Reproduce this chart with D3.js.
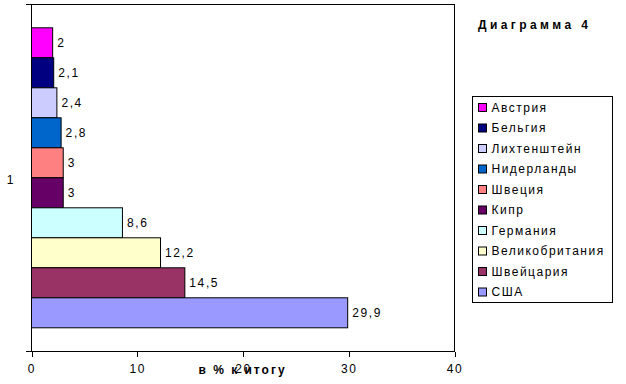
<!DOCTYPE html>
<html>
<head>
  <meta charset="utf-8">
  <title>Диаграмма 4</title>
  <style>
    body { margin: 0; background: #fff; }
    text { font-family: "Liberation Sans", Arial, sans-serif; font-size: 12px; fill: #000; }
    .sp { letter-spacing: 1.6px; }
    .leg { letter-spacing: 1.5px; }
    .axis path, .axis line { stroke: #000; shape-rendering: crispEdges; }
  </style>
</head>
<body>
  <svg id="chart"></svg>
  <script src="https://d3js.org/d3.v7.min.js"></script>
  <script>
    // данные
    const countries = ["Австрия", "Бельгия", "Лихтенштейн", "Нидерланды", "Швеция",
                       "Кипр", "Германия", "Великобритания", "Швейцария", "США"];
    const shares = [2, 2.1, 2.4, 2.8, 3, 3, 8.6, 12.2, 14.5, 29.9];
    const colors = ["#FF00FF", "#000080", "#CCCCFF", "#0066CC", "#FF8080",
                    "#660066", "#CCFFFF", "#FFFFCC", "#993366", "#9999FF"];
    const xTicks = [0, 10, 20, 30, 40];
    const category = "1";

    const W = 626, H = 384;
    const plot = { left: 31, right: 454, top: 4, bottom: 351 };

    const svg = d3.select("#chart").attr("width", W).attr("height", H);

    const x = d3.scaleLinear().domain([0, 40]).range([plot.left, plot.right]);
    const y = d3.scaleBand().domain(countries).range([27.3, 327.3]);

    const fmt = v => String(v).replace(".", ",");

    // рамка области построения
    svg.append("rect")
      .attr("x", plot.left + 0.5).attr("y", plot.top + 0.5)
      .attr("width", plot.right - plot.left).attr("height", plot.bottom - plot.top)
      .attr("fill", "none").attr("stroke", "#000");

    // столбцы
    svg.selectAll(".bar")
      .data(countries)
      .enter().append("rect")
      .attr("class", "bar")
      .attr("x", x(0) + 0.5)
      .attr("y", d => y(d) + 0.5)
      .attr("width", (d, i) => x(shares[i]) - x(0))
      .attr("height", y.bandwidth())
      .attr("fill", (d, i) => colors[i])
      .attr("stroke", "#000");

    // подписи значений
    svg.selectAll(".lbl")
      .data(countries)
      .enter().append("text")
      .attr("class", "lbl sp")
      .attr("x", (d, i) => x(shares[i]) + 5)
      .attr("y", d => y(d) + y.bandwidth() / 2)
      .attr("dy", "0.35em")
      .text((d, i) => fmt(shares[i]));

    // ось X
    const xAxis = svg.append("g")
      .attr("class", "axis")
      .attr("transform", `translate(0.5, ${plot.bottom + 0.5})`)
      .call(d3.axisBottom(x).tickValues(xTicks).tickSize(5).tickSizeOuter(0).tickFormat(d3.format("d")));
    xAxis.select(".domain").remove();
    xAxis.selectAll("text")
      .attr("class", "sp")
      .attr("y", 13);
    xAxis.attr("font-family", null).attr("font-size", null);

    // ось категорий
    svg.append("line")
      .attr("x1", plot.left - 5).attr("x2", plot.right)
      .attr("y1", plot.bottom + 0.5).attr("y2", plot.bottom + 0.5)
      .attr("stroke", "#000");
    svg.append("line")
      .attr("x1", plot.left - 5).attr("x2", plot.left)
      .attr("y1", plot.top + 0.5).attr("y2", plot.top + 0.5)
      .attr("stroke", "#000");
    svg.append("text")
      .attr("x", 10).attr("y", (plot.top + plot.bottom) / 2 + 2)
      .attr("dy", "0.35em").attr("text-anchor", "middle")
      .text(category);

    // заголовок оси
    svg.append("text")
      .attr("x", (plot.left + plot.right) / 2)
      .attr("y", 374)
      .attr("text-anchor", "middle")
      .attr("font-weight", "bold")
      .style("letter-spacing", "2px")
      .text("в % к итогу");

    // заголовок
    svg.append("text")
      .attr("x", 478).attr("y", 29)
      .attr("font-weight", "bold")
      .style("letter-spacing", "3.4px")
      .text("Диаграмма 4");

    // легенда
    const leg = svg.append("g").attr("transform", "translate(472.5, 96.5)");
    leg.append("rect")
      .attr("width", 140).attr("height", 206)
      .attr("fill", "#fff").attr("stroke", "#000");
    const items = leg.selectAll(".item")
      .data(countries)
      .enter().append("g")
      .attr("transform", (d, i) => `translate(6, ${11 + i * 20.5})`);
    items.append("rect")
      .attr("x", 0).attr("y", -4)
      .attr("width", 8).attr("height", 8)
      .attr("fill", (d, i) => colors[i])
      .attr("stroke", "#000");
    items.append("text")
      .attr("class", "leg")
      .attr("x", 13).attr("dy", "0.35em")
      .text(d => d);
  </script>
</body>
</html>
